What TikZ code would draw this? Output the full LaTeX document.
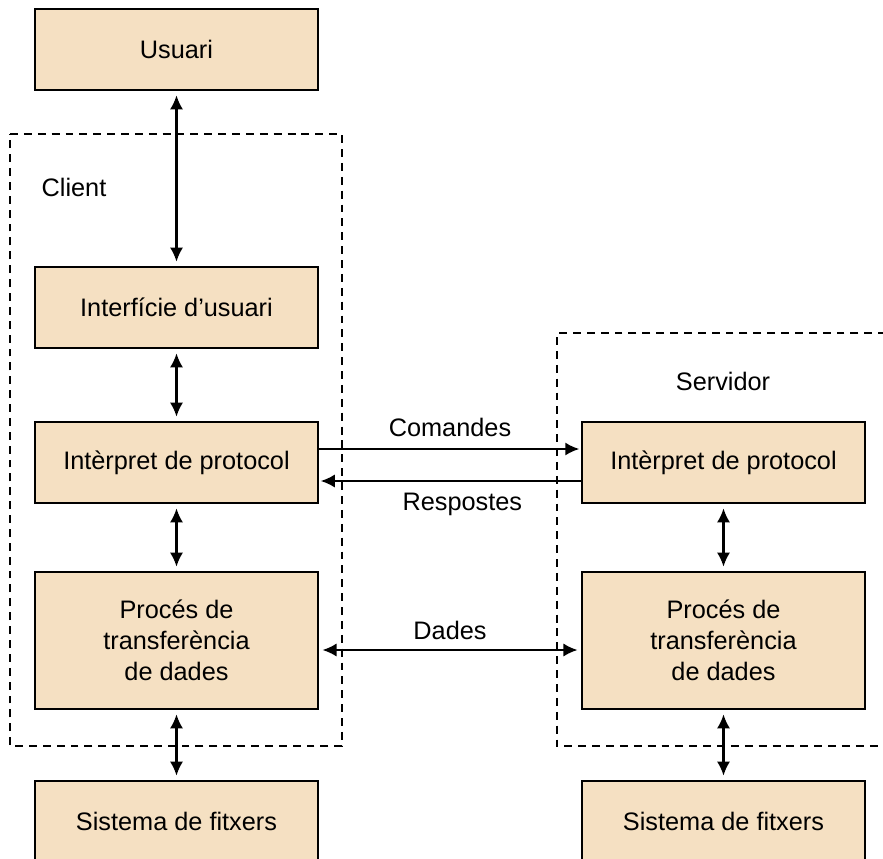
\documentclass[tikz,border=0pt]{standalone}
\usepackage{fontspec}
\setmainfont{Liberation Sans}
\usepackage{tikz}
\usetikzlibrary{arrows.meta}
\definecolor{boxfill}{RGB}{245,224,194}

\begin{document}
\begin{tikzpicture}[x=0.02cm,y=-0.02cm,
    box/.style={draw=black,line width=1.1pt,fill=boxfill,minimum width=5.66cm,
        minimum height=1.62cm,inner sep=0pt,align=center,
        font=\fontsize{14.4}{17.5}\selectfont},
    bigbox/.style={box,minimum height=2.74cm},
    lbl/.style={font=\fontsize{14.4}{17}\selectfont},
    grp/.style={draw,line width=0.8pt,dash pattern=on 4.5pt off 3.4pt},
    arr/.style={line width=1.2pt,-{Latex[length=8pt,width=7.5pt]}},
    darr/.style={line width=1.2pt,{Latex[length=8pt,width=7.5pt]}-{Latex[length=8pt,width=7.5pt]},
        shorten <=2.5pt,shorten >=2.5pt}]
                \useasboundingbox (0,0) rectangle (883,859);
                % dashed groups
                \path[grp]
                    (10,134) -- (342,134) -- (342,746) -- (10,746) -- cycle;
                \path[grp]
                    (900,333) -- (557,333) -- (557,746) -- (900,746);
                \node[lbl]
                    (client) at (74,187) {Client};
                \node[lbl]
                    (servidor) at (723,381) {Servidor};
                % client side
                \node[box]
                    (usr) at (176.5,49.5) {Usuari};
                \node[box]
                    (ui) at (176.5,307.5) {Interfície d’usuari};
                \node[box]
                    (cpi) at (176.5,462.5) {Intèrpret de protocol};
                \node[bigbox]
                    (cdt) at (176.5,640.5) {Procés de\\transferència\\ de dades};
                \node[box]
                    (cfs) at (176.5,821.5) {Sistema de fitxers};
                % server side
                \node[box]
                    (spi) at (723.5,462.5) {Intèrpret de protocol};
                \node[bigbox]
                    (sdt) at (723.5,640.5) {Procés de\\transferència\\ de dades};
                \node[box]
                    (sfs) at (723.5,821.5) {Sistema de fitxers};
                % connectors
                \draw[darr] (usr) -- (ui);
                \draw[darr] (ui) -- (cpi);
                \draw[darr] (cpi) -- (cdt);
                \draw[darr] (cdt) -- (cfs);
                \draw[darr] (spi) -- (sdt);
                \draw[darr] (sdt) -- (sfs);
                \draw[arr,shorten >=1pt]
                    ([yshift=0.27cm]cpi.east) -- node[lbl,above=3pt] {Comandes} ([yshift=0.27cm]spi.west);
                \draw[arr,shorten >=1pt]
                    ([yshift=-0.37cm]spi.west) -- node[lbl,below=3pt,xshift=7pt] {Respostes} ([yshift=-0.37cm]cpi.east);
                \draw[darr,shorten <=2pt,shorten >=2pt]
                    ([yshift=-0.19cm]cdt.east) -- node[lbl,above=2pt] {Dades} ([yshift=-0.19cm]sdt.west);
            \end{tikzpicture}
\end{document}
